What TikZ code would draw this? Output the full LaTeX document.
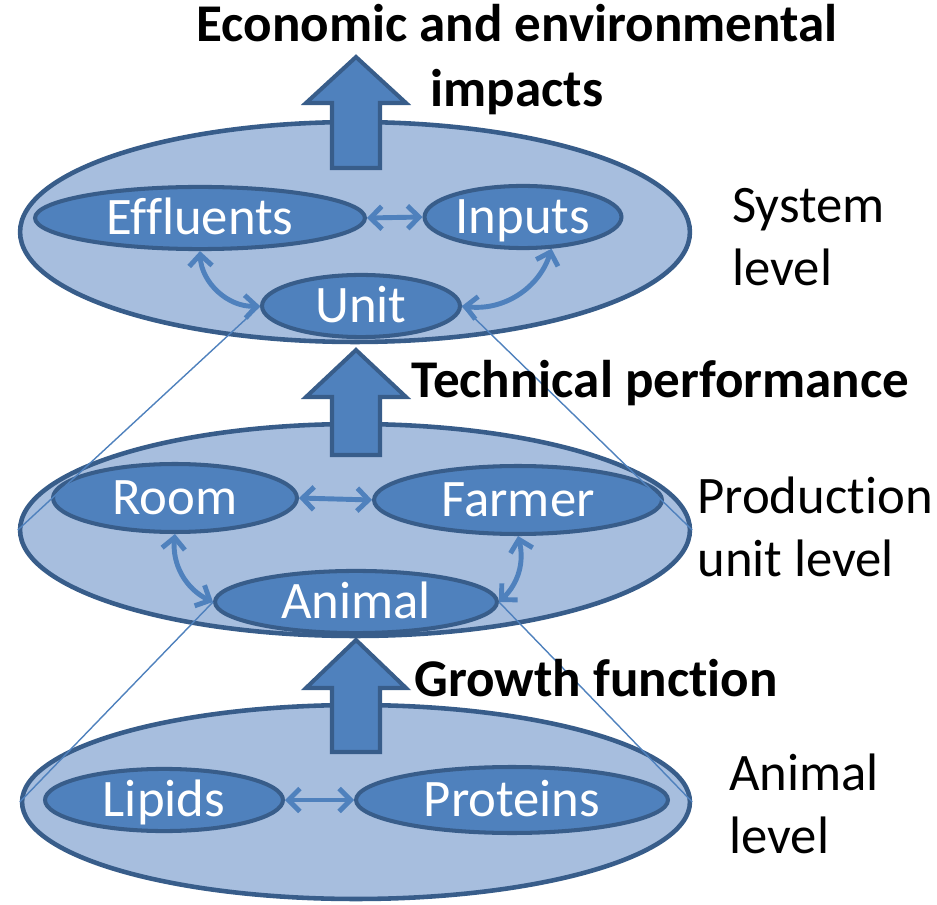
\documentclass[tikz,border=0pt]{standalone}
\usepackage{fontspec}
\setmainfont[Ligatures=NoCommon]{Carlito}
\usetikzlibrary{shapes.geometric,arrows.meta}

\definecolor{levelfill}{RGB}{167,190,222}
\definecolor{darkblue}{RGB}{56,93,138}
\definecolor{midblue}{RGB}{79,129,189}

\tikzset{
  bigell/.style={ellipse, draw=darkblue, fill=levelfill, line width=2.6pt, inner sep=0pt},
  smallell/.style={ellipse, draw=darkblue, fill=midblue, line width=2.3pt, inner sep=0pt,
    text=white, text height=22pt, text depth=3pt, font=\fontsize{30}{36}\selectfont},
  dblarrow/.style={midblue, line width=2.8pt, line cap=round,
    {Straight Barb[length=6.5pt,width=13pt]}-{Straight Barb[length=6.5pt,width=13pt]}},
  cone/.style={midblue, line width=0.8pt},
  lab/.style={anchor=west, align=left, inner sep=0pt, font=\fontsize{30}{35.5}\selectfont},
  heading/.style={inner sep=0pt, font=\bfseries\fontsize{30.2}{37}\selectfont},
  bigarrow/.style={draw=darkblue, fill=midblue, line width=2.3pt, line join=miter}
}

\begin{document}
\begin{tikzpicture}[x=0.02cm, y=0.02cm]
    \useasboundingbox (0,0) rectangle (937,904);

    % the three levels
    \node[bigell, minimum width=13.4cm, minimum height=4.4cm] (system) at (355,672) {};
    \node[bigell, minimum width=13.4cm, minimum height=4.24cm] (production) at (355,374) {};
    \node[bigell, minimum width=13.36cm, minimum height=3.88cm] (animallevel) at (356,102) {};

    % system level
    \node[smallell, minimum width=6.6cm, minimum height=1.24cm] (effluents) at (200,686) {Effluents};
    \node[smallell, minimum width=3.94cm, minimum height=1.24cm] (inputs) at (523,687) {Inputs};
    \node[smallell, minimum width=3.96cm, minimum height=1.16cm] (unit) at (361,598) {Unit};

    % production unit level
    \node[smallell, minimum width=4.88cm, minimum height=1.36cm] (room) at (175,406) {Room};
    \node[smallell, minimum width=5.76cm, minimum height=1.36cm] (farmer) at (518,404) {Farmer};
    \node[smallell, minimum width=5.64cm, minimum height=1.2cm] (animal) at (356,302) {Animal};

    % animal level
    \node[smallell, minimum width=4.76cm, minimum height=1.24cm] (lipids) at (164,104) {Lipids};
    \node[smallell, minimum width=6.24cm, minimum height=1.32cm] (proteins) at (512,104) {Proteins};

    % zoom lines between levels
    \draw[cone] (unit.west) -- (production.west);
    \draw[cone] (unit.east) -- (production.east);
    \draw[cone] (animal.west) -- (animallevel.west);
    \draw[cone] (animal.east) -- (animallevel.east);

    % interactions
    \draw[dblarrow] (effluents.east) -- (inputs.west);
    \draw[dblarrow] (effluents.south) to[bend right=45] (unit.west);
    \draw[dblarrow] (unit.east) to[bend right=40] (inputs.-48);
    \draw[dblarrow] (room.east) -- (farmer.west);
    \draw[dblarrow] (room.south) to[bend right=35] (animal.west);
    \draw[dblarrow] (animal.east) to[bend right=30] (farmer.south);
    \draw[dblarrow] (lipids.east) -- (proteins.west);

    % block arrows going up
    \foreach \tip/\neck/\foot in {847/801/736, 554/507/449, 264/216/152}
      \draw[bigarrow] (356,\tip) -- (406,\neck) -- (380,\neck) -- (380,\foot)
        -- (332,\foot) -- (332,\neck) -- (306,\neck) -- cycle;

    % outputs of each level
    \node[heading, align=center] (impacts) at (517,844) {Economic and environmental\\impacts};
    \node[heading, anchor=west] (technical) at (411,521) {Technical performance};
    \node[heading, anchor=west] (growth) at (414,226) {Growth function};

    % level names
    \node[lab] (systemlab) at (732,667) {System\\level};
    \node[lab] (productionlab) at (697,377) {Production\\unit level};
    \node[lab] (animallab) at (729,100) {Animal\\level};
\end{tikzpicture}
\end{document}
